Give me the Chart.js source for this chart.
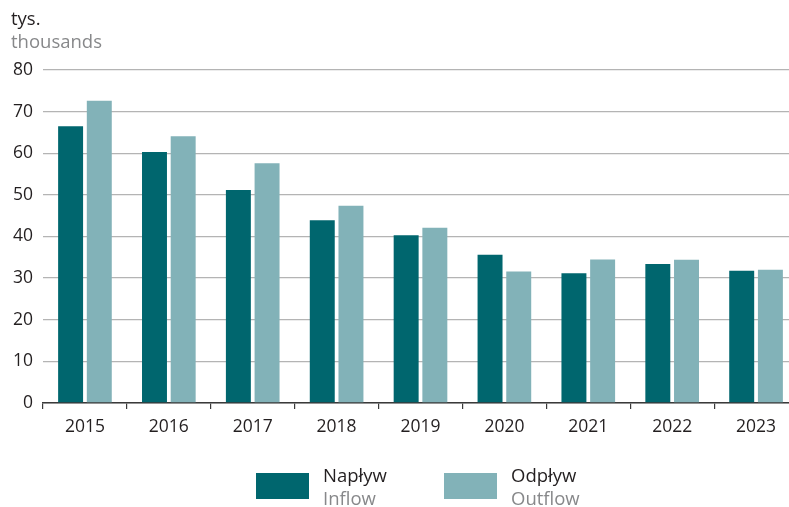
<!DOCTYPE html>
<html lang="pl">
<head>
<meta charset="UTF-8" />
<title>Napływ i odpływ</title>
<script src="https://cdn.jsdelivr.net/npm/chart.js@4.4.0/dist/chart.umd.min.js"></script>
<style>
  html, body { margin: 0; padding: 0; background: #fff; overflow: hidden; }
  #wrap { width: 798px; height: 507px; }
</style>
</head>
<body>
<div id="wrap"><canvas id="myChart" width="798" height="507"></canvas></div>
<script>
  const years = ['2015', '2016', '2017', '2018', '2019', '2020', '2021', '2022', '2023']
  const inflow = [66.5, 60.3, 51.2, 43.9, 40.3, 35.6, 31.2, 33.4, 31.8]
  const outflow = [72.6, 64.1, 57.6, 47.4, 42.1, 31.6, 34.5, 34.4, 32.0]
  const seriesPl = ['Napływ', 'Odpływ']
  const seriesEn = ['Inflow', 'Outflow']

  const FONT = '"Open Sans", "Noto Sans", sans-serif'
  const DARK = '#231f20'
  const GREY = '#87888a'

  // title + two-line legend drawn on the canvas
  const extras = {
    id: 'extras',
    afterDraw(chart) {
      const ctx = chart.ctx
      ctx.save()
      ctx.textBaseline = 'alphabetic'
      ctx.textAlign = 'left'
      ctx.font = '18.5px ' + FONT
      ctx.fillStyle = DARK
      ctx.fillText('tys.', 11, 25)
      ctx.fillStyle = GREY
      ctx.fillText('thousands', 11, 48)

      const boxX = [256, 444]
      chart.data.datasets.forEach((ds, i) => {
        ctx.fillStyle = ds.backgroundColor
        ctx.fillRect(boxX[i], 473, 53, 26)
        ctx.font = '18.5px ' + FONT
        ctx.fillStyle = DARK
        ctx.fillText(seriesPl[i], boxX[i] + 67, 482)
        ctx.fillStyle = GREY
        ctx.fillText(seriesEn[i], boxX[i] + 67, 505)
      })
      ctx.restore()
    }
  }

  const ctx = document.getElementById('myChart').getContext('2d')
  const myChart = new Chart(ctx, {
    type: 'bar',
    data: {
      labels: years,
      datasets: [{
        label: seriesPl[0],
        data: inflow,
        backgroundColor: '#00666e',
        categoryPercentage: 0.684,
        barPercentage: 0.87
      }, {
        label: seriesPl[1],
        data: outflow,
        backgroundColor: '#82b2b8',
        categoryPercentage: 0.684,
        barPercentage: 0.87
      }]
    },
    options: {
      responsive: false,
      animation: false,
      layout: { padding: { top: 70, left: 0, right: 0, bottom: 0 } },
      plugins: {
        legend: { display: false },
        tooltip: { enabled: false }
      },
      scales: {
        x: {
          afterFit: s => { s.height = 104 },
          grid: {
            offset: true,
            drawOnChartArea: false,
            drawTicks: true,
            tickLength: 6,
            color: '#3a3a3a',
            lineWidth: 1.2
          },
          border: { display: true, color: '#3a3a3a', width: 1.5 },
          ticks: {
            color: DARK,
            font: { family: FONT, size: 17.5 },
            padding: 8
          }
        },
        y: {
          min: 0,
          max: 80,
          afterFit: s => { s.width = 43 },
          grid: {
            drawTicks: false,
            color: '#b4b4b4',
            lineWidth: 1.3
          },
          border: { display: false },
          ticks: {
            stepSize: 10,
            color: DARK,
            font: { family: FONT, size: 17.5 },
            padding: 10
          }
        }
      }
    },
    plugins: [extras]
  })
</script>
</body>
</html>
